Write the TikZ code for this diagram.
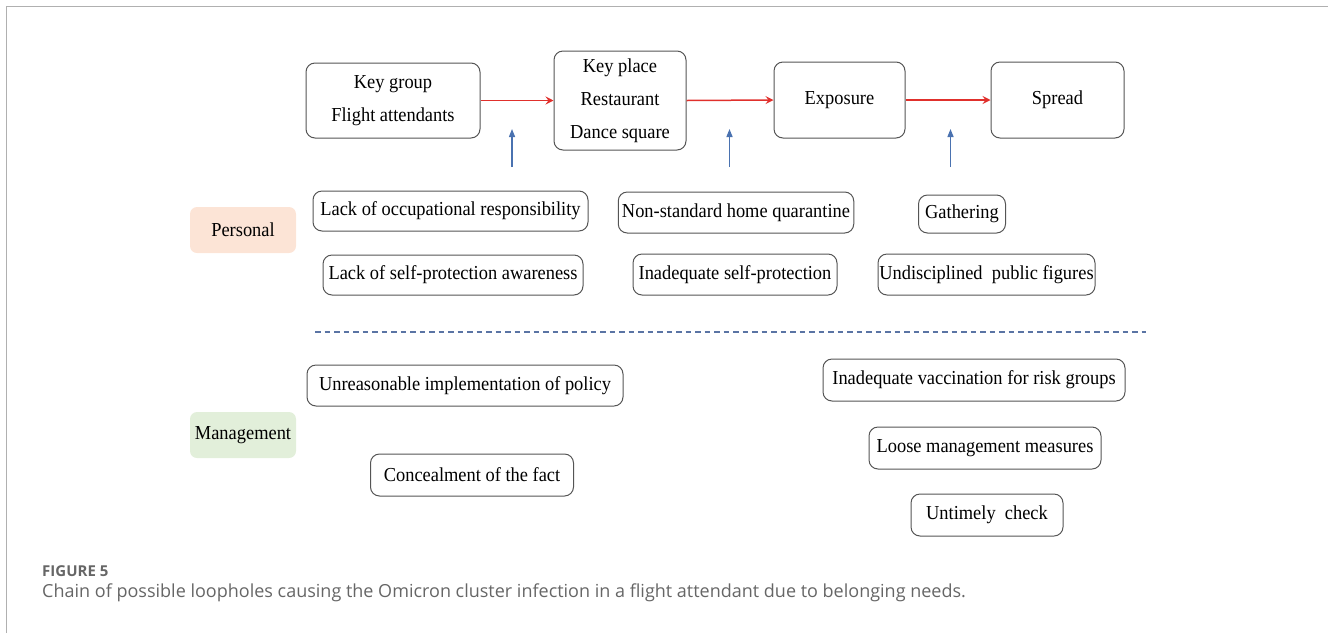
\documentclass[tikz,border=0pt]{standalone}
\usepackage{fontspec}
\setmainfont{Liberation Serif}[FakeStretch=0.93]
\newfontfamily\capfont{Open Sans}
\usetikzlibrary{arrows.meta}
\definecolor{framegray}{HTML}{B0B0B0}
\definecolor{boxline}{HTML}{555555}
\definecolor{redarrow}{HTML}{E0302C}
\definecolor{bluearrow}{HTML}{4A72B0}
\definecolor{dashblue}{HTML}{5A74A4}
\definecolor{persfill}{HTML}{FCE4D6}
\definecolor{mgmtfill}{HTML}{E2EFDA}
\definecolor{capgray}{HTML}{666666}
\tikzset{
  x=1pt, y=-1pt,
  rbox/.style={draw=boxline, line width=1pt, rounded corners=9pt, inner sep=0pt,
    align=center, font=\fontsize{19.8}{33}\selectfont},
  catbox/.style={fill=#1, draw=none, rounded corners=7pt, inner sep=0pt,
    minimum width=106pt, minimum height=46pt, font=\fontsize{19.8}{22}\selectfont},
  redarr/.style={draw=redarrow, line width=1.5pt, -{Stealth[length=8pt,width=8pt,inset=3pt]}},
  bluearr/.style={draw=bluearrow, line width=1.4pt, -{Triangle[length=8pt,width=6pt]}},
}
\begin{document}
\begin{tikzpicture}
\useasboundingbox (0,0) rectangle (1328,633);
\draw[framegray, line width=1.5pt] (6.5,633) -- (6.5,6.5) -- (1328,6.5);

% top chain
\node[rbox, minimum width=174pt, minimum height=75pt] (kg) at (393,100.5) {Key group\\Flight attendants};
\node[rbox, minimum width=132pt, minimum height=99pt] (kp) at (620,100.5) {Key place\\Restaurant\\Dance square};
\node[rbox, minimum width=131pt, minimum height=76pt] (ex) at (839.5,100) {Exposure};
\node[rbox, minimum width=133pt, minimum height=76pt] (sp) at (1057.5,100) {Spread};

\draw[redarr] (kg.east) -- (kp.west |- kg.east);
\draw[redarr] (kp.east) -- (ex.west);
\draw[redarr] (ex.east) -- (sp.west);

\coordinate (b1s) at (512,167); \coordinate (b1e) at (512,129);
\coordinate (b2s) at (729.5,167); \coordinate (b2e) at (729.5,129);
\coordinate (b3s) at (950.5,167); \coordinate (b3e) at (950.5,129);
\draw[bluearr] (b1s) -- (b1e);
\draw[bluearr] (b2s) -- (b2e);
\draw[bluearr] (b3s) -- (b3e);

% personal
\node[catbox=persfill] (pers) at (243,230) {Personal};
\node[rbox, minimum width=275pt, minimum height=40pt] (lor) at (450.5,211) {Lack of occupational responsibility};
\node[rbox, minimum width=260pt, minimum height=40pt] (lsa) at (453,275) {Lack of self-protection awareness};
\node[rbox, minimum width=235.5pt, minimum height=41pt] (nhq) at (736,212.5) {Non-standard home quarantine};
\node[rbox, minimum width=204pt, minimum height=41pt] (isp) at (735,274.5) {Inadequate self-protection};
\node[rbox, minimum width=87pt, minimum height=38pt] (gat) at (962,214) {Gathering};
\node[rbox, minimum width=217pt, minimum height=41pt] (upf) at (986.5,274.5) {Undisciplined\ \ public figures};

% divider
\coordinate (dl) at (315,332); \coordinate (dr) at (1146,332);
\draw[dashblue, line width=1.4pt, dash pattern=on 5.5pt off 4pt] (dl) -- (dr);

% management
\node[catbox=mgmtfill] (mgmt) at (243,435) {Management};
\node[rbox, minimum width=316pt, minimum height=41pt] (uip) at (465,385.5) {Unreasonable implementation of policy};
\node[rbox, minimum width=203pt, minimum height=42pt] (cof) at (472,475) {Concealment of the fact};
\node[rbox, minimum width=302pt, minimum height=42pt] (ivr) at (974,380) {Inadequate vaccination for risk groups};
\node[rbox, minimum width=232pt, minimum height=42pt] (lmm) at (985,448) {Loose management measures};
\node[rbox, minimum width=152pt, minimum height=42pt] (uc) at (987,515) {Untimely\ \ check};

% caption
\node[anchor=base west, inner sep=0pt, text=capgray, font=\capfont\fontsize{15}{18}\selectfont\bfseries] (figlab) at (42,576) {FIGURE 5};
\node[anchor=base west, inner sep=0pt, text=capgray, font=\capfont\fontsize{18}{22}\selectfont] (cap) at (42,597) {Chain of possible loopholes causing the Omicron cluster infection in a flight attendant due to belonging needs.};
\end{tikzpicture}
\end{document}
